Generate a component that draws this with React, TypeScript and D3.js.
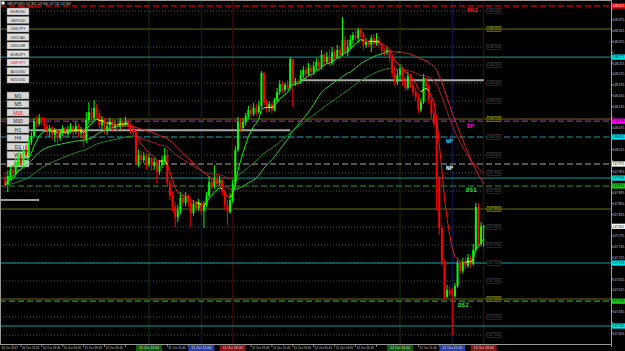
import React from "react";
import * as d3 from "d3";

// ---------------- DATA ----------------
const symbol = "GBPJPY";
const timeframe = "M15";
const startTime = new Date(2017, 9, 10, 20, 15);
const barMinutes = 15;

const firstOpen = 147.936;
const closes = [
  147.917, 147.942, 147.958, 147.95, 147.981, 147.992, 147.978, 148.014, 148.0, 148.036,
  148.053, 148.095, 148.086, 148.103, 148.092, 148.081, 148.067, 148.075, 148.056, 148.07,
  148.047, 148.061, 148.075, 148.058, 148.07, 148.078, 148.064, 148.081, 148.061, 148.07,
  148.042, 148.097, 148.119, 148.103, 148.131, 148.114, 148.083, 148.097, 148.07, 148.081,
  148.092, 148.075, 148.086, 148.078, 148.092, 148.083, 148.095, 148.081, 148.07, 148.064,
  147.978, 148.0, 147.986, 147.997, 147.975, 147.992, 147.97, 147.981, 147.953, 147.972,
  147.986, 148.0, 147.922, 147.886, 147.856, 147.828, 147.847, 147.881, 147.867, 147.886,
  147.869, 147.839, 147.864, 147.853, 147.867, 147.845, 147.861, 147.886, 147.925, 147.911,
  147.936, 147.92, 147.931, 147.897, 147.861, 147.842, 147.875, 147.92, 148.014, 148.092,
  148.075, 148.092, 148.108, 148.125, 148.114, 148.131, 148.119, 148.136, 148.228, 148.145,
  148.131, 148.142, 148.125, 148.153, 148.175, 148.197, 148.181, 148.195, 148.186, 148.267,
  148.2, 148.206, 148.203, 148.222, 148.236, 148.225, 148.242, 148.231, 148.247, 148.258,
  148.245, 148.278, 148.258, 148.272, 148.256, 148.286, 148.272, 148.292, 148.278, 148.32,
  148.286, 148.3, 148.32, 148.333, 148.325, 148.347, 148.336, 148.306, 148.314, 148.306,
  148.325, 148.308, 148.32, 148.308, 148.292, 148.286, 148.292, 148.269, 148.228, 148.203,
  148.222, 148.242, 148.208, 148.186, 148.219, 148.195, 148.175, 148.161, 148.125, 148.147,
  148.214, 148.192, 148.153, 148.114, 148.086, 147.936, 147.797, 147.703, 147.606, 147.625,
  147.614, 147.608, 147.636, 147.7, 147.678, 147.703, 147.692, 147.714, 147.697, 147.736,
  147.856, 147.753, 147.802, 147.802,
];
const highs = [
  147.953, 147.958, 147.97, 147.972, 147.992, 148.008, 148.003, 148.025, 148.028, 148.047,
  148.064, 148.103, 148.108, 148.114, 148.108, 148.103, 148.089, 148.083, 148.081, 148.075,
  148.072, 148.07, 148.083, 148.078, 148.081, 148.089, 148.083, 148.092, 148.086, 148.078,
  148.075, 148.119, 148.147, 148.131, 148.153, 148.142, 148.125, 148.108, 148.103, 148.092,
  148.103, 148.1, 148.097, 148.095, 148.103, 148.097, 148.106, 148.097, 148.089, 148.081,
  148.07, 148.014, 148.011, 148.008, 148.006, 148.003, 147.994, 147.992, 147.986, 147.986,
  147.997, 148.02, 148.014, 147.931, 147.897, 147.869, 147.861, 147.897, 147.892, 147.897,
  147.892, 147.881, 147.875, 147.872, 147.878, 147.869, 147.872, 147.897, 147.942, 147.936,
  147.972, 147.945, 147.942, 147.936, 147.903, 147.875, 147.895, 147.931, 148.025, 148.106,
  148.103, 148.103, 148.117, 148.136, 148.139, 148.145, 148.142, 148.15, 148.233, 148.231,
  148.153, 148.15, 148.147, 148.158, 148.186, 148.208, 148.206, 148.2, 148.208, 148.272,
  148.267, 148.214, 148.211, 148.236, 148.247, 148.245, 148.256, 148.25, 148.261, 148.269,
  148.267, 148.292, 148.283, 148.286, 148.292, 148.3, 148.295, 148.306, 148.303, 148.383,
  148.331, 148.32, 148.333, 148.342, 148.347, 148.353, 148.353, 148.342, 148.325, 148.32,
  148.333, 148.336, 148.339, 148.328, 148.311, 148.297, 148.3, 148.295, 148.275, 148.247,
  148.236, 148.253, 148.245, 148.219, 148.231, 148.225, 148.208, 148.186, 148.17, 148.158,
  148.225, 148.214, 148.197, 148.158, 148.125, 148.092, 147.942, 147.806, 147.708, 147.639,
  147.636, 147.631, 147.645, 147.708, 147.706, 147.714, 147.717, 147.725, 147.722, 147.753,
  147.867, 147.867, 147.814, 147.806,
];
const lows = [
  147.908, 147.897, 147.931, 147.939, 147.945, 147.97, 147.97, 147.972, 147.992, 147.994,
  148.028, 148.047, 148.078, 148.081, 148.083, 148.07, 148.053, 148.05, 148.042, 148.036,
  148.028, 148.039, 148.053, 148.047, 148.05, 148.061, 148.053, 148.058, 148.05, 148.047,
  148.022, 148.033, 148.086, 148.092, 148.097, 148.103, 148.075, 148.07, 148.058, 148.056,
  148.07, 148.064, 148.07, 148.067, 148.072, 148.07, 148.078, 148.07, 148.058, 148.05,
  147.97, 147.967, 147.975, 147.978, 147.961, 147.967, 147.956, 147.958, 147.922, 147.945,
  147.964, 147.978, 147.914, 147.875, 147.842, 147.8, 147.814, 147.836, 147.858, 147.858,
  147.856, 147.8, 147.831, 147.842, 147.845, 147.833, 147.797, 147.856, 147.881, 147.903,
  147.906, 147.908, 147.914, 147.886, 147.847, 147.806, 147.836, 147.867, 147.911, 148.008,
  148.064, 148.067, 148.083, 148.1, 148.106, 148.108, 148.108, 148.114, 148.131, 148.136,
  148.119, 148.119, 148.114, 148.122, 148.147, 148.167, 148.172, 148.175, 148.181, 148.181,
  148.133, 148.192, 148.192, 148.197, 148.214, 148.211, 148.219, 148.214, 148.222, 148.236,
  148.231, 148.236, 148.247, 148.253, 148.247, 148.25, 148.258, 148.267, 148.264, 148.275,
  148.278, 148.275, 148.295, 148.308, 148.317, 148.311, 148.325, 148.292, 148.297, 148.3,
  148.286, 148.297, 148.303, 148.3, 148.278, 148.275, 148.278, 148.258, 148.214, 148.192,
  148.195, 148.211, 148.192, 148.178, 148.181, 148.186, 148.164, 148.15, 148.117, 148.119,
  148.142, 148.181, 148.142, 148.103, 148.078, 147.847, 147.778, 147.692, 147.597, 147.603,
  147.606, 147.5, 147.603, 147.631, 147.669, 147.672, 147.681, 147.686, 147.686, 147.692,
  147.731, 147.747, 147.747, 147.745,
];

// Moving average periods
const fastPeriod = 8;
const mediumPeriod = 34;
const slowPeriod = 50;

// Pivot levels
const pivotNames = ["DR1", "DP", "WP", "NP", "DS1", "DS2"];
const pivotPrices = [148.414, 148.094, 148.05, 147.975, 147.914, 147.594];
// Support / resistance (solid cyan)
const srPrices = [148.272, 147.936, 147.7, 147.525];
// Round-number levels
const roundPrices = [
  148.4, 148.35, 148.3, 148.25, 148.2, 148.15, 148.1, 148.05, 148.0, 147.95,
  147.9, 147.85, 147.8, 147.75, 147.7, 147.65, 147.6, 147.55, 147.5,
];
const roundMajorPrices = [148.35, 148.1, 147.85, 147.6];
// Session high/low segments (price, from bar, to bar)
const segPrices = [148.208, 148.069, 147.875];
const segFrom = [113, 9, -2];
const segTo = [183, 109, 13];
// Session separators (bar index, session type)
const sessionBars = [55, 75, 87, 151, 171, 183];
const sessionTypes = ["eu", "us", "close", "eu", "us", "close"];
// Price axis ticks
const priceTicks = [
  148.405, 148.375, 148.345, 148.315, 148.285, 148.255, 148.225, 148.195, 148.165, 148.135,
  148.105, 148.075, 148.045, 148.015, 147.985, 147.955, 147.925, 147.895, 147.865, 147.835,
  147.805, 147.775, 147.745, 147.715, 147.685, 147.655, 147.625, 147.595, 147.565, 147.535,
  147.505,
];
const symbols = ["EURUSD", "GBPUSD", "USDJPY", "USDCAD", "USDCHF", "EURJPY", "GBPJPY", "AUDUSD", "NZDUSD"];
const timeframes = ["M1", "M5", "M15", "M30", "H1", "H4", "D1", "W1", "MN"];

// ---------------- HELPERS ----------------
const N = closes.length;
// candles are contiguous: each open is the previous close
const opens = closes.map((c, i) => (i === 0 ? firstOpen : closes[i - 1]));

function ema(v: number[], n: number) {
  const k = 2 / (n + 1);
  let e = v[0];
  return v.map((p, i) => (i === 0 ? e : (e = p * k + e * (1 - k))));
}
function sma(v: number[], n: number) {
  return v.map((_, i) => {
    const s = v.slice(Math.max(0, i - n + 1), i + 1);
    return d3.mean(s) as number;
  });
}

const fmt = d3.format(".3f");
const timeFmt = d3.timeFormat("%d %b %H:%M");
const barTime = (i: number) => new Date(startTime.getTime() + i * barMinutes * 60000);

const FONT = "'Liberation Sans', Arial, sans-serif";

export default function App() {
  const W = 625, H = 351;
  const plotR = 611, plotB = 344;
  const priceTop = 148.4306;
  const x = d3.scaleLinear().domain([0, N - 1]).range([5.2, 483.7]);
  const y = d3.scaleLinear().domain([priceTop - plotB / 360, priceTop]).range([plotB, 0]);

  const pivotStyle: Record<string, any> = {
    DR1: { line: "#c40000", w: 1.6, dash: "6,3", text: "#ff1a1a", box: "#ff0000", boxText: "#ffffff", lx: 467, dy: 6 },
    DP: { line: "#8e2f8e", w: 1.3, dash: "6,3", text: "#ff00ff", box: "#ff00ff", boxText: "#000000", lx: 467, dy: 7 },
    WP: { line: "#1d98a8", w: 1.2, dash: "6,3", text: "#1ad0ff", box: "#00e5ff", boxText: "#000000", lx: 446, dy: 6 },
    NP: { line: "#a8a8a8", w: 1.2, dash: "6,3", text: "#ffffff", box: "#ffffff", boxText: "#000000", lx: 446, dy: 6 },
    DS1: { line: "#2e9a2e", w: 1.2, dash: "6,3", text: "#2ee02e", box: "#22cc22", boxText: "#000000", lx: 466, dy: 6 },
    DS2: { line: "#2e9a2e", w: 1.2, dash: "6,3", text: "#2ee02e", box: "#22cc22", boxText: "#000000", lx: 458, dy: 6 },
  };
  const sessionStyle: Record<string, any> = {
    eu: { line: "#10360f", box: "#0b5c0b" },
    us: { line: "#0f1c5c", box: "#2840a8" },
    close: { line: "#440c0c", box: "#8e1414" },
  };

  const fast = ema(closes, fastPeriod);
  const medium = sma(closes, mediumPeriod);
  const slow = ema(closes, slowPeriod);

  const maSegs = (ma: number[], up: string, down: string, turn?: string) => {
    const out: JSX.Element[] = [];
    for (let i = 1; i < N; i++) {
      const d = ma[i] - ma[i - 1];
      const dPrev = i > 1 ? ma[i - 1] - ma[i - 2] : d;
      let col = d >= 0 ? up : down;
      if (turn && i > 1 && Math.sign(d) !== Math.sign(dPrev)) col = turn;
      out.push(
        <line key={i} x1={x(i - 1)} y1={y(ma[i - 1])} x2={x(i)} y2={y(ma[i])} stroke={col} strokeWidth={1} />
      );
    }
    return out;
  };

  const bid = closes[N - 1];
  const axisBoxes = [
    ...pivotNames.map((n, i) => ({ p: pivotPrices[i], fill: pivotStyle[n].box, tc: pivotStyle[n].boxText })),
    ...srPrices.map((p) => ({ p, fill: "#00e5ee", tc: "#000" })),
    { p: bid, fill: "#ffffff", tc: "#000" },
  ];
  // price-axis labels hidden under the coloured line boxes are not drawn (as in the terminal)
  const visibleTicks = priceTicks.filter(
    (p) => y(p) > 4 && !axisBoxes.some((b) => Math.abs(y(b.p) - y(p)) < 5.4)
  );
  // time labels hidden under the coloured separator boxes are not drawn
  const labelBars = d3.range(6, N, 8).filter((b) => {
    const l = x(b) + 1, r = x(b) + 19;
    return !sessionBars.some((s) => r > x(s) - 13 && l < x(s) + 13) && r < plotR;
  });

  const axisFont = 3.5;

  return (
    <svg width={W} height={H} style={{ position: "absolute", left: 0, top: 0, background: "#000" }} fontFamily={FONT}>
      <rect x={0} y={0} width={W} height={H} fill="#000" />

      {/* round-number dotted levels */}
      {roundPrices.map((p) => {
        const major = roundMajorPrices.includes(p);
        return major ? (
          <line key={"r" + p} x1={0} x2={plotR} y1={y(p)} y2={y(p)} stroke="#6c6c12" strokeWidth={1} />
        ) : (
          <line key={"r" + p} x1={0} x2={487} y1={y(p)} y2={y(p)} stroke="#4e4e4e" strokeWidth={1} strokeDasharray="1,2" />
        );
      })}

      {/* session separators */}
      {sessionBars.map((b, i) => (
        <line key={"s" + i} x1={x(b)} x2={x(b)} y1={0} y2={plotB} stroke={sessionStyle[sessionTypes[i]].line} strokeWidth={1} />
      ))}

      {/* solid S/R cyan */}
      {srPrices.map((p) => (
        <line key={"sr" + p} x1={0} x2={plotR} y1={y(p)} y2={y(p)} stroke="#149a9a" strokeWidth={1} />
      ))}

      {/* session high/low segments */}
      {segPrices.map((p, i) => (
        <line key={"seg" + i} x1={Math.max(0, x(segFrom[i]))} x2={x(segTo[i])} y1={y(p)} y2={y(p)}
          stroke={i === 2 ? "#cfcfcf" : "#a9a9a9"} strokeWidth={i === 2 ? 1.3 : 2} />
      ))}

      {/* pivot lines */}
      {pivotNames.map((n, i) => {
        const s = pivotStyle[n];
        return (
          <line key={"pv" + n} x1={0} x2={plotR} y1={y(pivotPrices[i])} y2={y(pivotPrices[i])}
            stroke={s.line} strokeWidth={s.w} strokeDasharray={s.dash} />
        );
      })}

      {/* round level boxes */}
      {roundPrices.map((p) => {
        const major = roundMajorPrices.includes(p);
        const yy = y(p);
        return (
          <g key={"rb" + p}>
            <rect x={487} y={yy - 2.5} width={14} height={5} fill={major ? "#2c2c06" : "#000"}
              stroke={major ? "#8a8a1a" : "#3c3c3c"} strokeWidth={0.6} />
            <text x={488} y={yy + 1.3} fontSize={3.3} textLength={12} lengthAdjust="spacingAndGlyphs"
              fill={major ? "#a8a828" : "#5e5e5e"}>{fmt(p)}</text>
          </g>
        );
      })}

      {/* left buttons */}
      {symbols.map((s, i) => (
        <g key={"sym" + s}>
          <rect x={7} y={8 + i * 8.5} width={22} height={7} fill="#dedede" stroke="#7a7a7a" strokeWidth={0.5} />
          <text x={18} y={13.4 + i * 8.5} fontSize={4.4} textAnchor="middle" textLength={15} lengthAdjust="spacingAndGlyphs"
            fill={s === symbol ? "#e01010" : "#1c1c1c"}>{s}</text>
        </g>
      ))}
      {timeframes.map((t, i) => (
        <g key={"tf" + t}>
          <rect x={7} y={92 + i * 8.5} width={22} height={7} fill="#d6d6d6" stroke="#7a7a7a" strokeWidth={0.5} />
          <text x={18} y={97.6 + i * 8.5} fontSize={5} textAnchor="middle"
            fill={t === timeframe ? "#e01010" : "#1c1c1c"}>{t}</text>
        </g>
      ))}

      {/* candles */}
      {closes.map((c, i) => {
        const o = opens[i];
        const up = c >= o;
        const col = up ? "#00ff00" : "#ff0000";
        const top = y(Math.max(o, c));
        const bot = y(Math.min(o, c));
        return (
          <g key={"c" + i}>
            <line x1={x(i)} x2={x(i)} y1={y(highs[i])} y2={y(lows[i])} stroke={col} strokeWidth={1} />
            <rect x={x(i) - 1} y={top} width={2} height={Math.max(0.8, bot - top)} fill={col} />
          </g>
        );
      })}

      {/* moving averages */}
      {maSegs(slow, "#1f8f1f", "#b31b1b")}
      {maSegs(medium, "#2fcf2f", "#e51c1c")}
      {maSegs(fast, "#00ff00", "#ff1010", "#ffff00")}

      {/* pivot labels */}
      {pivotNames.map((n, i) => {
        const s = pivotStyle[n];
        return (
          <text key={"pl" + n} x={s.lx} y={y(pivotPrices[i]) + s.dy} fontSize={6} fontWeight="bold"
            fill={s.text} fontFamily="'DejaVu Sans Mono', monospace">{n}</text>
        );
      })}

      {/* frame */}
      <line x1={0} x2={plotR} y1={0.5} y2={0.5} stroke="#9a9a9a" strokeWidth={1} />
      <line x1={0.5} x2={0.5} y1={0} y2={plotB} stroke="#9a9a9a" strokeWidth={1} />
      <line x1={plotR + 0.5} x2={plotR + 0.5} y1={0} y2={plotB + 3} stroke="#9a9a9a" strokeWidth={1} />
      <line x1={0} x2={plotR} y1={plotB + 0.5} y2={plotB + 0.5} stroke="#9a9a9a" strokeWidth={1} />

      {/* title */}
      <rect x={1.5} y={1.5} width={3} height={3} fill="#ffffff" />
      <text x={7} y={4.6} fontSize={3.4} textLength={64} lengthAdjust="spacingAndGlyphs" fill="#d8d8d8">
        {`${symbol},${timeframe}  ${fmt(opens[N - 1])} ${fmt(highs[N - 1])} ${fmt(lows[N - 1])} ${fmt(bid)}`}
      </text>
      <text x={18} y={7.7} fontSize={2.8} textLength={20} lengthAdjust="spacingAndGlyphs" fill="#ff2020">Spread: 3.0 points</text>

      {/* price axis */}
      {priceTicks.map((p) => (
        <line key={"ptk" + p} x1={plotR} x2={plotR + 2} y1={y(p)} y2={y(p)} stroke="#c8c8c8" strokeWidth={0.6} />
      ))}
      {visibleTicks.map((p) => (
        <text key={"pt" + p} x={612.6} y={y(p) + 1.3} fontSize={axisFont} textLength={11.6} lengthAdjust="spacingAndGlyphs" fill="#c8c8c8">{fmt(p)}</text>
      ))}
      {axisBoxes.map((b, i) => (
        <g key={"pb" + i}>
          <rect x={plotR + 1} y={y(b.p) - 2.6} width={W - plotR - 1} height={5.2} fill={b.fill} />
          <text x={612.6} y={y(b.p) + 1.3} fontSize={axisFont} textLength={11.6} lengthAdjust="spacingAndGlyphs" fill={b.tc}>{fmt(b.p)}</text>
        </g>
      ))}

      {/* time axis */}
      <text x={1.5} y={349.3} fontSize={axisFont} textLength={16.5} lengthAdjust="spacingAndGlyphs" fill="#c8c8c8">
        {d3.timeFormat("%d %b %Y")(barTime(0))}
      </text>
      {d3.range(6, N, 8).map((b) => (
        <line key={"tt" + b} x1={x(b)} x2={x(b)} y1={plotB} y2={plotB + 3} stroke="#c8c8c8" strokeWidth={0.6} />
      ))}
      {labelBars.map((b) => (
        <text key={"tl" + b} x={x(b) + 1} y={349.3} fontSize={3.3} textLength={17.5} lengthAdjust="spacingAndGlyphs" fill="#c8c8c8">
          {timeFmt(barTime(b))}
        </text>
      ))}
      {sessionBars.map((b, i) => (
        <g key={"sb" + i}>
          <rect x={x(b) - 13} y={plotB + 1} width={26} height={6} fill={sessionStyle[sessionTypes[i]].box} />
          <text x={x(b)} y={349.4} fontSize={3.5} textAnchor="middle" textLength={20} lengthAdjust="spacingAndGlyphs" fill="#d8d8d8">
            {timeFmt(barTime(b))}
          </text>
        </g>
      ))}
    </svg>
  );
}
